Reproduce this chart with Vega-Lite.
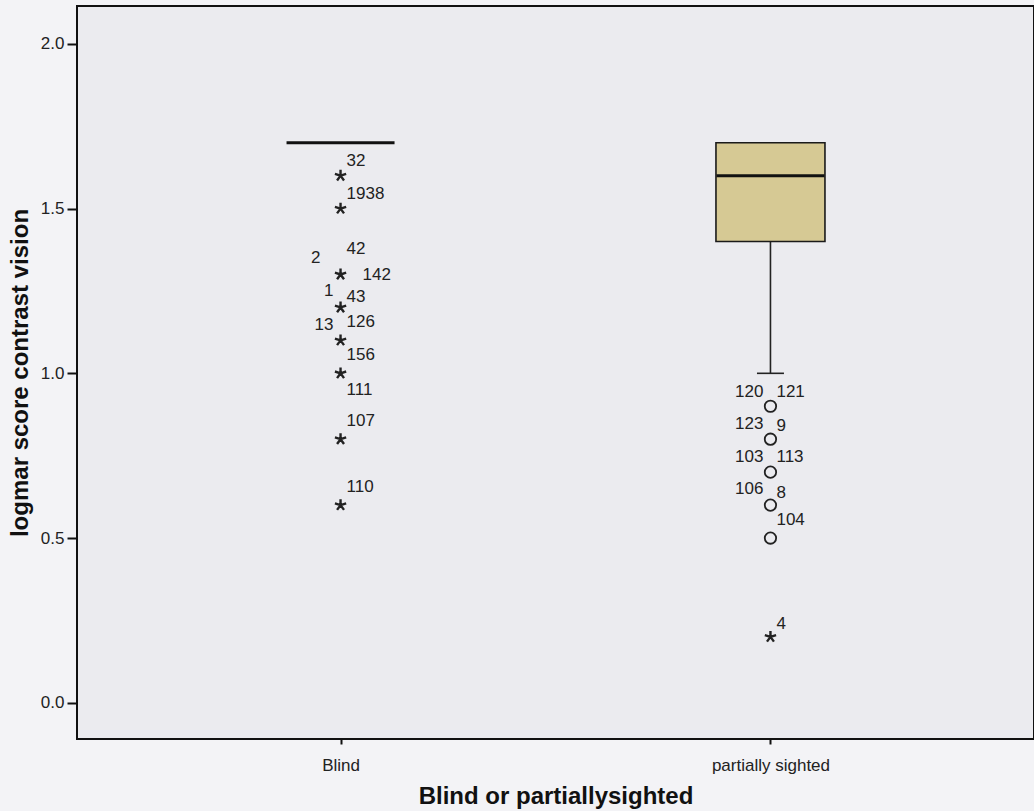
{
  "$schema": "https://vega.github.io/schema/vega-lite/v6.json",
  "width": 957,
  "height": 733,
  "autosize": {"type": "none"},
  "padding": {"left": 77, "top": 6, "right": 0, "bottom": 72},
  "background": "#f3f3f6",
  "config": {
    "view": {"stroke": "#111111", "strokeWidth": 2, "fill": "#ebebef"},
    "font": "Liberation Sans",
    "axis": {
      "grid": false,
      "domain": false,
      "tickColor": "#111111",
      "tickWidth": 2,
      "labelColor": "#222222",
      "labelFont": "Liberation Sans",
      "labelFontSize": 17,
      "titleFont": "Liberation Sans",
      "titleFontSize": 24,
      "titleFontWeight": "bold",
      "titleColor": "#111111"
    }
  },
  "datasets": {
    "box": [
      {"group": "Blind", "q1": 1.7, "median": 1.7, "q3": 1.7, "lower": 1.7},
      {"group": "partially sighted", "q1": 1.4, "median": 1.6, "q3": 1.7, "lower": 1.0}
    ],
    "points": [
      {"group": "Blind", "value": 1.6, "kind": "extreme"},
      {"group": "Blind", "value": 1.5, "kind": "extreme"},
      {"group": "Blind", "value": 1.3, "kind": "extreme"},
      {"group": "Blind", "value": 1.2, "kind": "extreme"},
      {"group": "Blind", "value": 1.1, "kind": "extreme"},
      {"group": "Blind", "value": 1.0, "kind": "extreme"},
      {"group": "Blind", "value": 0.8, "kind": "extreme"},
      {"group": "Blind", "value": 0.6, "kind": "extreme"},
      {"group": "partially sighted", "value": 0.9, "kind": "outlier"},
      {"group": "partially sighted", "value": 0.8, "kind": "outlier"},
      {"group": "partially sighted", "value": 0.7, "kind": "outlier"},
      {"group": "partially sighted", "value": 0.6, "kind": "outlier"},
      {"group": "partially sighted", "value": 0.5, "kind": "outlier"},
      {"group": "partially sighted", "value": 0.2, "kind": "extreme"}
    ],
    "labels": [
      {"group": "Blind", "label": "32", "labelY": 1.643, "side": "R"},
      {"group": "Blind", "label": "1938", "labelY": 1.545, "side": "R"},
      {"group": "Blind", "label": "42", "labelY": 1.378, "side": "R"},
      {"group": "Blind", "label": "2", "labelY": 1.350, "side": "LL"},
      {"group": "Blind", "label": "142", "labelY": 1.299, "side": "RR"},
      {"group": "Blind", "label": "1", "labelY": 1.250, "side": "L"},
      {"group": "Blind", "label": "43", "labelY": 1.233, "side": "R"},
      {"group": "Blind", "label": "13", "labelY": 1.146, "side": "L"},
      {"group": "Blind", "label": "126", "labelY": 1.155, "side": "R"},
      {"group": "Blind", "label": "156", "labelY": 1.056, "side": "R"},
      {"group": "Blind", "label": "111", "labelY": 0.950, "side": "R"},
      {"group": "Blind", "label": "107", "labelY": 0.854, "side": "R"},
      {"group": "Blind", "label": "110", "labelY": 0.656, "side": "R"},
      {"group": "partially sighted", "label": "120", "labelY": 0.942, "side": "L"},
      {"group": "partially sighted", "label": "121", "labelY": 0.942, "side": "R"},
      {"group": "partially sighted", "label": "123", "labelY": 0.846, "side": "L"},
      {"group": "partially sighted", "label": "9", "labelY": 0.839, "side": "R"},
      {"group": "partially sighted", "label": "103", "labelY": 0.746, "side": "L"},
      {"group": "partially sighted", "label": "113", "labelY": 0.746, "side": "R"},
      {"group": "partially sighted", "label": "106", "labelY": 0.649, "side": "L"},
      {"group": "partially sighted", "label": "8", "labelY": 0.638, "side": "R"},
      {"group": "partially sighted", "label": "104", "labelY": 0.555, "side": "R"},
      {"group": "partially sighted", "label": "4", "labelY": 0.240, "side": "R"}
    ]
  },
  "encoding": {
    "x": {
      "field": "group",
      "type": "nominal",
      "sort": ["Blind", "partially sighted"],
      "scale": {"type": "point", "padding": 0.613, "domain": ["Blind", "partially sighted"]},
      "axis": {
        "title": "Blind or partiallysighted",
        "labelAngle": 0,
        "tickSize": 5,
        "labelPadding": 13,
        "titlePadding": 11
      }
    }
  },
  "layer": [
    {
      "data": {"name": "box"},
      "mark": {"type": "rule", "stroke": "#222222", "strokeWidth": 1.6},
      "encoding": {
        "y": {
          "field": "lower",
          "type": "quantitative",
          "scale": {"domain": [-0.11, 2.115], "nice": false, "zero": false},
          "axis": {
            "title": "logmar score contrast vision",
            "values": [0, 0.5, 1, 1.5, 2],
            "format": ".1f",
            "tickSize": 10,
            "labelPadding": 3,
            "titlePadding": 8
          }
        },
        "y2": {"field": "q1"}
      }
    },
    {
      "data": {"name": "box"},
      "transform": [{"filter": "datum.q3 > datum.q1"}],
      "mark": {"type": "bar", "size": 109, "fill": "#d6c994", "stroke": "#1a1a1a", "strokeWidth": 1.6},
      "encoding": {
        "y": {"field": "q1", "type": "quantitative"},
        "y2": {"field": "q3"}
      }
    },
    {
      "data": {"name": "box"},
      "transform": [{"filter": "datum.q3 > datum.q1"}],
      "mark": {"type": "tick", "size": 27, "thickness": 1.6, "color": "#222222", "opacity": 1},
      "encoding": {
        "y": {"field": "lower", "type": "quantitative"}
      }
    },
    {
      "data": {"name": "box"},
      "mark": {"type": "tick", "size": 108, "thickness": 3, "color": "#111111", "opacity": 1},
      "encoding": {
        "y": {"field": "median", "type": "quantitative"}
      }
    },
    {
      "data": {"name": "points"},
      "transform": [{"filter": "datum.kind === 'outlier'"}],
      "mark": {"type": "point", "shape": "circle", "size": 130, "filled": false, "stroke": "#222222", "strokeWidth": 1.8, "opacity": 1},
      "encoding": {
        "y": {"field": "value", "type": "quantitative"}
      }
    },
    {
      "data": {"name": "points"},
      "transform": [{"filter": "datum.kind === 'extreme'"}],
      "mark": {
        "type": "point",
        "shape": "M0,0L0,-1M0,0L0.951,-0.309M0,0L0.588,0.809M0,0L-0.588,0.809M0,0L-0.951,-0.309",
        "size": 140,
        "filled": false,
        "stroke": "#222222",
        "strokeWidth": 2.4,
        "opacity": 1
      },
      "encoding": {
        "y": {"field": "value", "type": "quantitative"}
      }
    },
    {
      "data": {"name": "labels"},
      "transform": [{"filter": "datum.side === 'R'"}],
      "mark": {"type": "text", "align": "left", "baseline": "middle", "dx": 6, "fontSize": 17, "fill": "#222222"},
      "encoding": {
        "y": {"field": "labelY", "type": "quantitative"},
        "text": {"field": "label"}
      }
    },
    {
      "data": {"name": "labels"},
      "transform": [{"filter": "datum.side === 'RR'"}],
      "mark": {"type": "text", "align": "left", "baseline": "middle", "dx": 22, "fontSize": 17, "fill": "#222222"},
      "encoding": {
        "y": {"field": "labelY", "type": "quantitative"},
        "text": {"field": "label"}
      }
    },
    {
      "data": {"name": "labels"},
      "transform": [{"filter": "datum.side === 'L'"}],
      "mark": {"type": "text", "align": "right", "baseline": "middle", "dx": -7, "fontSize": 17, "fill": "#222222"},
      "encoding": {
        "y": {"field": "labelY", "type": "quantitative"},
        "text": {"field": "label"}
      }
    },
    {
      "data": {"name": "labels"},
      "transform": [{"filter": "datum.side === 'LL'"}],
      "mark": {"type": "text", "align": "right", "baseline": "middle", "dx": -20, "fontSize": 17, "fill": "#222222"},
      "encoding": {
        "y": {"field": "labelY", "type": "quantitative"},
        "text": {"field": "label"}
      }
    }
  ]
}
